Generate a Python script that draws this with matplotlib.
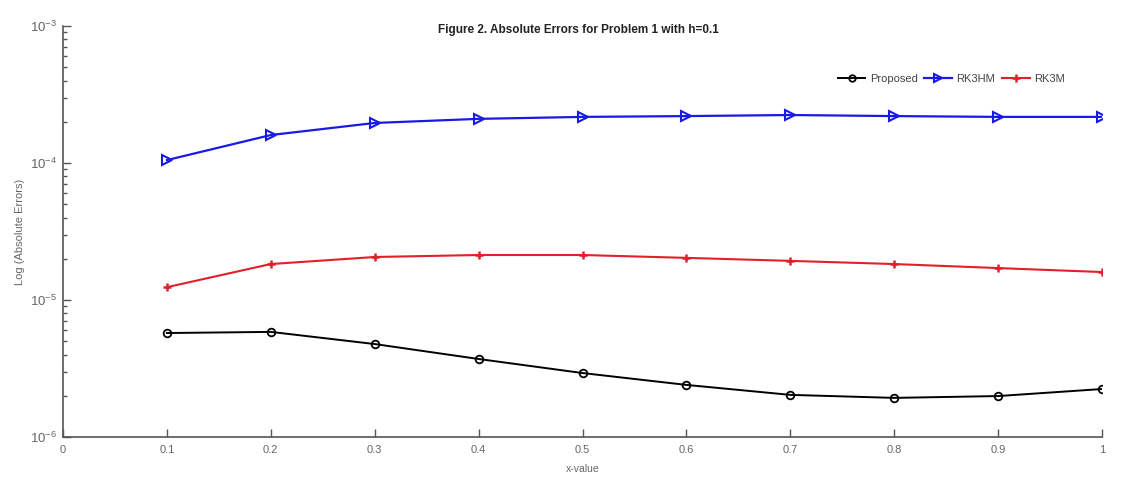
import matplotlib
matplotlib.use("Agg")
import matplotlib.pyplot as plt
from matplotlib.ticker import LogLocator, FixedLocator

x = [0.1, 0.2, 0.3, 0.4, 0.5, 0.6, 0.7, 0.8, 0.9, 1.0]
proposed = [5.74e-6, 5.85e-6, 4.77e-6, 3.71e-6, 2.93e-6, 2.40e-6, 2.03e-6, 1.93e-6, 1.99e-6, 2.24e-6]
rk3hm = [1.05e-4, 1.60e-4, 1.96e-4, 2.10e-4, 2.17e-4, 2.20e-4, 2.24e-4, 2.20e-4, 2.17e-4, 2.17e-4]
rk3m = [1.24e-5, 1.83e-5, 2.06e-5, 2.13e-5, 2.13e-5, 2.03e-5, 1.93e-5, 1.83e-5, 1.71e-5, 1.60e-5]
xticks = [0, 0.1, 0.2, 0.3, 0.4, 0.5, 0.6, 0.7, 0.8, 0.9, 1]
xticklabels = ["0", "0.1", "0.2", "0.3", "0.4", "0.5", "0.6", "0.7", "0.8", "0.9", "1"]

plt.rcParams['font.family'] = ['Liberation Sans', 'DejaVu Sans']

fig = plt.figure(figsize=(11.23, 4.86), dpi=100)
ax = fig.add_axes([63/1123, 1-437/486, (1102-63)/1123, (437-26)/486])

ax.plot(x, proposed, color='black', marker='o', markersize=5.5, markerfacecolor='none',
        markeredgewidth=1.3, linewidth=1.4, label='Proposed')
ax.plot(x, rk3hm, color='#1a1ae6', marker='>', markersize=7, markerfacecolor='none',
        markeredgewidth=1.5, linewidth=1.6, label='RK3HM')
ax.plot(x, rk3m, color='#e0202a', marker='+', markersize=6, markeredgewidth=1.8,
        linewidth=1.5, label='RK3M')

ax.set_yscale('log')
ax.set_ylim(1e-6, 1e-3)
ax.set_xlim(0, 1)
ax.xaxis.set_major_locator(FixedLocator(xticks))
ax.set_xticklabels(xticklabels)
ax.yaxis.set_major_locator(LogLocator(base=10, numticks=10))
ax.yaxis.set_minor_locator(LogLocator(base=10, subs=range(2, 10), numticks=10))

for s in ['top', 'right']:
    ax.spines[s].set_visible(False)
for s in ['left', 'bottom']:
    ax.spines[s].set_color('#555555')
    ax.spines[s].set_linewidth(1.2)

ax.tick_params(axis='both', which='major', direction='in', length=6, width=1,
               colors='#555555', labelsize=8, labelcolor='#666666')
ax.tick_params(axis='y', which='major', labelsize=9.5, pad=4)
ax.tick_params(axis='y', which='minor', direction='in', length=3, width=1, colors='#555555')
ax.tick_params(axis='x', pad=6)

ax.set_xlabel('x-value', fontsize=7.5, color='#666666', labelpad=6)
ax.set_ylabel('Log (Absolute Errors)', fontsize=8, color='#666666', labelpad=4)

fig.text(578/1123, 1-30/486, 'Figure 2. Absolute Errors for Problem 1 with h=0.1',
         ha='center', va='center', fontsize=8.5, fontweight='bold', color='#222222')

leg = ax.legend(loc='upper right', bbox_to_anchor=(1075/1123, 1-64/486), bbox_transform=fig.transFigure,
                ncol=3, frameon=False, fontsize=8, handlelength=2.5, columnspacing=0.6,
                handletextpad=0.4, markerscale=0.85)
for t in leg.get_texts():
    t.set_color('#444444')

fig.savefig('out.png', dpi=100)
